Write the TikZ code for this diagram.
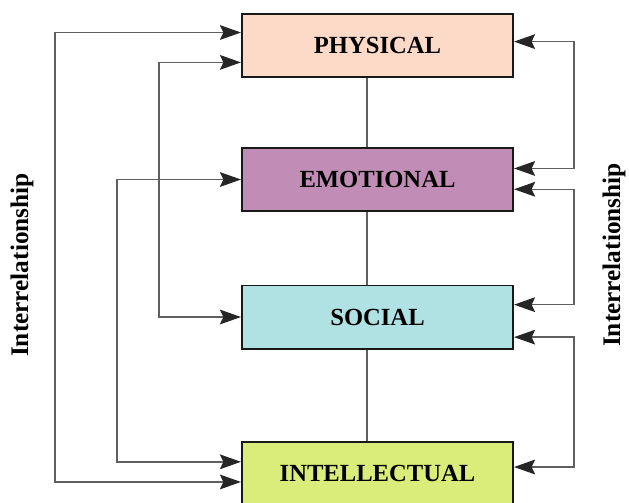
\documentclass[tikz,border=0pt]{standalone}
\usepackage{fontspec}
\setmainfont{Liberation Serif}
\usetikzlibrary{arrows.meta,calc}
\definecolor{physfill}{RGB}{253,217,200}
\definecolor{emofill}{RGB}{193,141,182}
\definecolor{socfill}{RGB}{176,225,227}
\definecolor{intfill}{RGB}{218,236,122}
\definecolor{linkgray}{RGB}{95,95,95}

\begin{document}
\begin{tikzpicture}[x=0.025cm, y=-0.025cm,
  area/.style={draw=black!90, line width=1.4pt, minimum width=6.775cm, minimum height=1.575cm, inner sep=0pt, font=\fontsize{17.5}{20}\selectfont\bfseries},
  link/.style={draw=linkgray, line width=1pt, {Stealth[length=15pt,width=10.5pt,inset=2.5pt,color=black!85]}-{Stealth[length=15pt,width=10.5pt,inset=2.5pt,color=black!85]}},
  side/.style={rotate=90, font=\fontsize{18}{20}\selectfont\bfseries}]
\useasboundingbox (0,0) rectangle (629,502);
% the four areas
\node[area, fill=physfill] (phys) at (377.5,45.5) {PHYSICAL};
\node[area, fill=emofill] (emo) at (377.5,179.5) {EMOTIONAL};
\node[area, fill=socfill] (soc) at (377.5,317) {SOCIAL};
\node[area, fill=intfill] (intel) at (377.5,473.5) {INTELLECTUAL};
\foreach \a/\b in {phys/emo, emo/soc, soc/intel}
\draw [linkgray, line width=1.2pt] ([xshift=-0.26cm]\a.south) -- ([xshift=-0.26cm]\b.north);
% left links
\draw [link] ($(phys.north west)!0.3!(phys.south west)$) -- ++(-186,0) |- ($(intel.north west)!0.63!(intel.south west)$);
\draw [link] ($(phys.north west)!0.76!(phys.south west)$) -- ++(-82,0) |- (soc.west);
\draw [link] (emo.west) -- ++(-124,0) |- ($(intel.north west)!0.32!(intel.south west)$);
% right links
\draw [link] ($(phys.north east)!0.44!(phys.south east)$) -- ++(60,0) |- ($(emo.north east)!0.33!(emo.south east)$);
\draw [link] ($(emo.north east)!0.65!(emo.south east)$) -- ++(60,0) |- ($(soc.north east)!0.31!(soc.south east)$);
\draw [link] ($(soc.north east)!0.81!(soc.south east)$) -- ++(60,0) |- ($(intel.north east)!0.4!(intel.south east)$);
\node[side] (leftlab) at (22,265) {Interrelationship};
\node[side] (rightlab) at (614,255) {Interrelationship};
\end{tikzpicture}
\end{document}
